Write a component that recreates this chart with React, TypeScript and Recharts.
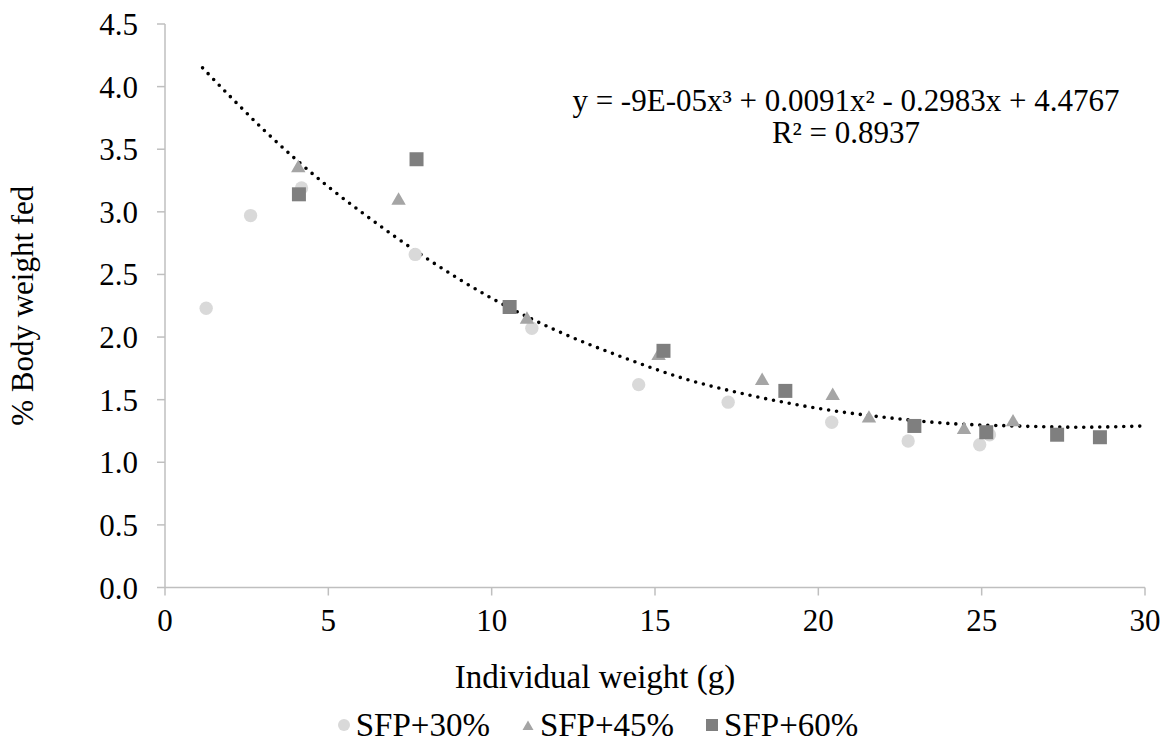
import {
  ComposedChart,
  Legend,
  Line,
  Scatter,
  Symbols,
  XAxis,
  YAxis,
} from "recharts";

// SFP+30% (circles)
const sfp30X = [1.26, 2.62, 4.18, 7.66, 11.23, 14.5, 17.24, 20.41, 22.75, 24.94, 25.24];
const sfp30Y = [2.23, 2.97, 3.19, 2.66, 2.07, 1.62, 1.48, 1.32, 1.17, 1.14, 1.22];

// SFP+45% (triangles)
const sfp45X = [4.08, 7.15, 11.08, 15.11, 18.28, 20.44, 21.55, 24.46, 25.96];
const sfp45Y = [3.35, 3.09, 2.14, 1.85, 1.65, 1.53, 1.35, 1.26, 1.32];

// SFP+60% (squares)
const sfp60X = [4.1, 7.7, 10.55, 15.26, 18.99, 22.94, 25.14, 27.31, 28.62];
const sfp60Y = [3.14, 3.42, 2.24, 1.89, 1.57, 1.29, 1.24, 1.22, 1.2];

// polynomial trendline
const trendX = [1.15, 2, 3, 4, 5, 6, 8, 10, 12, 14, 16, 18, 20, 22, 24, 26, 28, 30];
const trendY = [4.15, 3.92, 3.66, 3.42, 3.2, 3.0, 2.63, 2.31, 2.05, 1.84, 1.66, 1.53, 1.43, 1.36, 1.31, 1.29, 1.28, 1.29];

const xTicks = [0, 5, 10, 15, 20, 25, 30];
const yTicks = [0, 0.5, 1, 1.5, 2, 2.5, 3, 3.5, 4, 4.5];

const FONT = "'Liberation Serif', 'Times New Roman', serif";
const FS = 31;
const AXIS_GREY = "#BFBFBF";
const TICK = { fontSize: FS, fill: "#000", fontFamily: FONT } as const;

const series = [
  { name: "SFP+30%", color: "#D9D9D9", shape: "circle", size: 140 },
  { name: "SFP+45%", color: "#A5A5A5", shape: "triangle", size: 90 },
  { name: "SFP+60%", color: "#7F7F7F", shape: "square", size: 196 },
] as const;

const zip = (xs: number[], ys: number[]) => xs.map((x, i) => ({ x, y: ys[i] }));

const marker = (type: "circle" | "triangle" | "square", size: number, fill: string) =>
  (p: any) => <Symbols cx={p.cx} cy={p.cy} type={type} size={size} fill={fill} />;

function LegendIcon({ shape, color }: { shape: string; color: string }) {
  return (
    <svg width={14} height={14} style={{ marginRight: 5 }}>
      {shape === "circle" && <circle cx={7} cy={7} r={6} fill={color} />}
      {shape === "triangle" && <polygon points="7,2.5 12.5,12 1.5,12" fill={color} />}
      {shape === "square" && <rect x={1} y={1} width={12} height={12} fill={color} />}
    </svg>
  );
}

function BottomLegend() {
  return (
    <div
      style={{
        height: 42,
        paddingLeft: 50,
        display: "flex",
        justifyContent: "center",
        alignItems: "center",
        gap: 31,
        fontFamily: FONT,
        fontSize: 33,
        color: "#000",
      }}
    >
      {series.map((s) => (
        <span key={s.name} style={{ display: "flex", alignItems: "center" }}>
          <LegendIcon shape={s.shape} color={s.color} />
          {s.name}
        </span>
      ))}
    </div>
  );
}

export default function App() {
  return (
    <div style={{ width: 1168, height: 746, background: "#fff" }}>
      <style>{"body{margin:0}"}</style>
      <ComposedChart
        width={1168}
        height={746}
        margin={{ top: 24, right: 23, bottom: 0, left: 0 }}
      >
        <XAxis
          type="number"
          dataKey="x"
          domain={[0, 30]}
          ticks={xTicks}
          tick={TICK}
          tickSize={8}
          tickMargin={13}
          height={116.5}
          stroke={AXIS_GREY}
          strokeWidth={1.5}
        />
        <YAxis
          type="number"
          dataKey="y"
          domain={[0, 4.5]}
          ticks={yTicks}
          tick={TICK}
          tickFormatter={(v: number) => v.toFixed(1)}
          tickSize={8}
          tickMargin={19}
          width={165}
          stroke={AXIS_GREY}
          strokeWidth={1.5}
          label={{
            value: "% Body weight fed",
            angle: -90,
            position: "insideLeft",
            offset: 22,
            style: { fontSize: FS, fill: "#000", fontFamily: FONT, textAnchor: "middle" },
          }}
        />
        <Legend verticalAlign="bottom" content={() => <BottomLegend />} />
        <Line
          data={zip(trendX, trendY)}
          dataKey="y"
          type="monotone"
          stroke="#000"
          strokeWidth={3.6}
          strokeDasharray="0 8"
          strokeLinecap="round"
          dot={false}
          activeDot={false}
          legendType="none"
          isAnimationActive={false}
        />
        {series.map((s, i) => (
          <Scatter
            key={s.name}
            name={s.name}
            data={[zip(sfp30X, sfp30Y), zip(sfp45X, sfp45Y), zip(sfp60X, sfp60Y)][i]}
            shape={marker(s.shape, s.size, s.color)}
            fill={s.color}
            isAnimationActive={false}
          />
        ))}
        <text x={846} y={111} textAnchor="middle" fontSize={FS} fontFamily={FONT} fill="#000">
          y = -9E-05x³ + 0.0091x² - 0.2983x + 4.4767
        </text>
        <text x={846} y={143} textAnchor="middle" fontSize={FS} fontFamily={FONT} fill="#000">
          R² = 0.8937
        </text>
        <text x={595} y={688} textAnchor="middle" fontSize={33} fontFamily={FONT} fill="#000">
          Individual weight (g)
        </text>
      </ComposedChart>
    </div>
  );
}
